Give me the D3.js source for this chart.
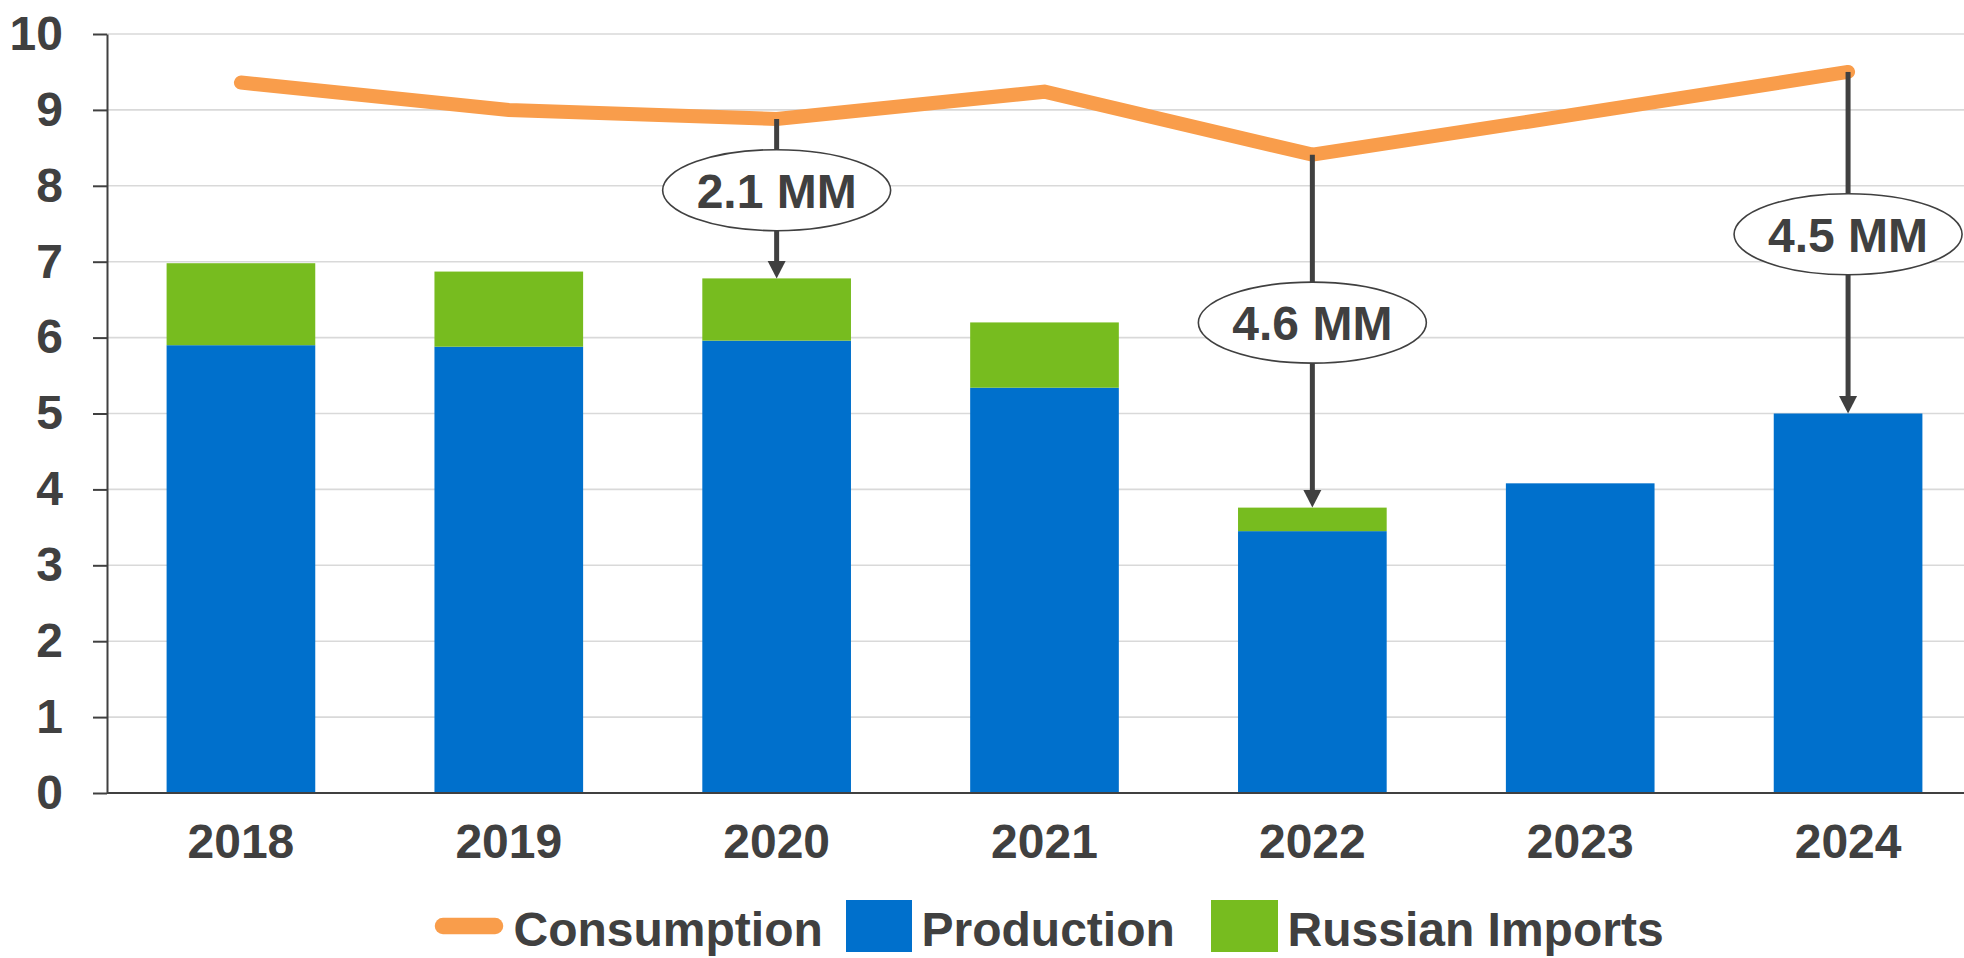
<!DOCTYPE html>
<html><head><meta charset="utf-8">
<script src="https://cdn.jsdelivr.net/npm/d3@7"></script>
<style>html,body{margin:0;padding:0;background:#fff;overflow:hidden}
text{font-family:"Liberation Sans",Arial,sans-serif;font-weight:bold;fill:#404040}</style>
</head><body><svg id="chart" width="1964" height="958"></svg>
<script>
// ---- data ----
const years = ["2018","2019","2020","2021","2022","2023","2024"];
const production = [5.90, 5.88, 5.96, 5.34, 3.45, 4.08, 5.00];
const russianImports = [1.08, 0.99, 0.82, 0.86, 0.31, 0, 0];
const consumption = [9.36, 9.00, 8.88, 9.24, 8.41, 8.95, 9.50];
const yTicks = [0,1,2,3,4,5,6,7,8,9,10];
const annotationYears = ["2020","2022","2024"];
const annotationLabels = ["2.1 MM","4.6 MM","4.5 MM"];
const seriesNames = ["Consumption","Production","Russian Imports"];
const colors = {Consumption:"#F99D4B", Production:"#0070CC", "Russian Imports":"#77BC1F"};

// ---- layout ----
const W = 1964, H = 958;
const plotLeft = 107, plotRight = 1982, plotTop = 34, plotBottom = 793;
const ink = "#404040";

const svg = d3.select("#chart");
const x = d3.scaleBand().domain(years).range([plotLeft, plotRight])
  .paddingInner(0.445).paddingOuter(0.2225);
const y = d3.scaleLinear().domain([0, 10]).range([plotBottom, plotTop]);
const cx = d => x(d) + x.bandwidth() / 2;

// gridlines
svg.append("g").selectAll("line").data(yTicks.filter(t => t > 0)).join("line")
  .attr("x1", plotLeft).attr("x2", W)
  .attr("y1", d => y(d)).attr("y2", d => y(d))
  .attr("stroke", "#d9d9d9").attr("stroke-width", 1.6);

// stacked bars
const table = years.map((yr, i) => ({year: yr, Production: production[i], "Russian Imports": russianImports[i]}));
const stack = d3.stack().keys(["Production", "Russian Imports"])(table);
svg.append("g").selectAll("g").data(stack).join("g")
  .attr("fill", s => colors[s.key])
  .selectAll("rect").data(s => s.filter(d => d[1] - d[0] > 0)).join("rect")
  .attr("x", d => x(d.data.year)).attr("width", x.bandwidth())
  .attr("y", d => y(d[1])).attr("height", d => y(d[0]) - y(d[1]));

// axes
const yAxis = svg.append("g").attr("transform", `translate(${plotLeft},0)`)
  .call(d3.axisLeft(y).tickValues(yTicks).tickFormat(d3.format("d")).tickSize(14).tickSizeOuter(0).tickPadding(30));
const xAxis = svg.append("g").attr("transform", `translate(0,${plotBottom})`)
  .call(d3.axisBottom(x).tickSize(0).tickSizeOuter(0).tickPadding(31));
[yAxis, xAxis].forEach(a => {
  a.selectAll("path.domain").attr("stroke", ink).attr("stroke-width", 2);
  a.selectAll(".tick line").attr("stroke", ink).attr("stroke-width", 2);
  a.selectAll(".tick text").attr("fill", ink).style("font-size", "48px")
    .style("font-weight", "bold").style("font-family", '"Liberation Sans",Arial,sans-serif');
});
xAxis.select("path.domain").attr("d", `M${plotLeft},0H${W}`);

// consumption line
const line = d3.line().x((d, i) => cx(years[i])).y(d => y(d));
svg.append("path").datum(consumption).attr("d", line)
  .attr("fill", "none").attr("stroke", colors.Consumption).attr("stroke-width", 14)
  .attr("stroke-linecap", "round").attr("stroke-linejoin", "miter");

// annotations
const rx = 114, ry = 40.5, headL = 17.5, headW = 9;
annotationYears.forEach((yr, k) => {
  const i = years.indexOf(yr);
  const xc = cx(yr);
  const yTop = y(consumption[i]);
  const yBar = y(production[i] + russianImports[i]);
  const cy = (yTop + yBar) / 2 - 8.5;
  const g = svg.append("g");
  g.append("line").attr("x1", xc).attr("x2", xc).attr("y1", yTop).attr("y2", cy - ry)
    .attr("stroke", ink).attr("stroke-width", 5);
  g.append("line").attr("x1", xc).attr("x2", xc).attr("y1", cy + ry).attr("y2", yBar - headL + 1)
    .attr("stroke", ink).attr("stroke-width", 5);
  g.append("path").attr("d", `M${xc - headW},${yBar - headL}L${xc + headW},${yBar - headL}L${xc},${yBar}Z`)
    .attr("fill", ink);
  g.append("ellipse").attr("cx", xc).attr("cy", cy).attr("rx", rx).attr("ry", ry)
    .attr("fill", "#fff").attr("stroke", ink).attr("stroke-width", 1.6);
  g.append("text").attr("x", xc).attr("y", cy + 17.5).attr("text-anchor", "middle")
    .style("font-size", "48px").text(annotationLabels[k]);
});

// legend
const ly = 926;   // legend vertical centre
const lg = svg.append("g");
lg.append("line").attr("x1", 443).attr("x2", 495).attr("y1", ly).attr("y2", ly)
  .attr("stroke", colors.Consumption).attr("stroke-width", 16.5).attr("stroke-linecap", "round");
lg.append("text").attr("x", 513.5).attr("y", ly + 20).style("font-size", "48px").text(seriesNames[0]);
lg.append("rect").attr("x", 846).attr("y", ly - 26).attr("width", 66).attr("height", 52).attr("fill", colors.Production);
lg.append("text").attr("x", 921.5).attr("y", ly + 20).style("font-size", "48px").text(seriesNames[1]);
lg.append("rect").attr("x", 1211).attr("y", ly - 26).attr("width", 67).attr("height", 52).attr("fill", colors["Russian Imports"]);
lg.append("text").attr("x", 1287.5).attr("y", ly + 20).style("font-size", "48px").text(seriesNames[2]);
</script></body></html>
